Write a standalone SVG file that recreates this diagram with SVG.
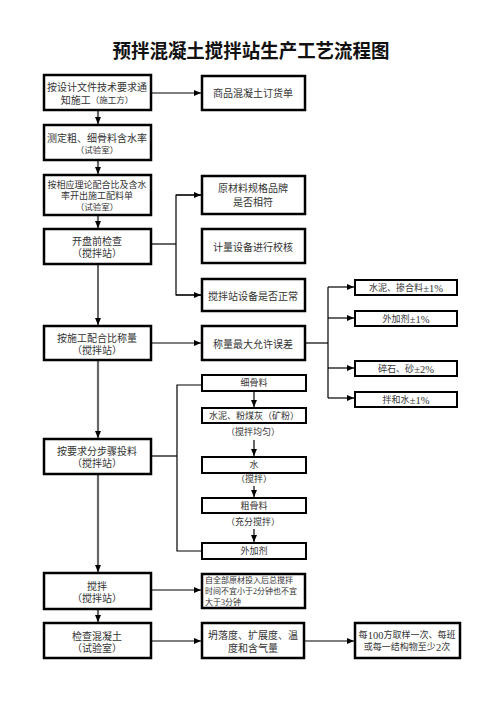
<svg xmlns="http://www.w3.org/2000/svg" width="496" height="702" viewBox="0 0 496 702">
<style>
.b{fill:#fff;stroke:#000;stroke-width:2.5}
.s{fill:#fff;stroke:#000;stroke-width:2}
text{font-family:"Liberation Serif","Noto Sans CJK SC",serif;fill:#333;text-anchor:middle;dominant-baseline:central}
.t{font-size:10px}
.m{font-size:8.5px}
.k{font-size:9px}
.d{font-size:10.5px}
.c line,.c polyline{fill:none;stroke:#000;stroke-width:1.2}
.c .g{stroke:#666;stroke-width:2.2}
</style>
<defs>
<marker id="a" markerWidth="8" markerHeight="8" refX="7" refY="4" orient="auto" markerUnits="userSpaceOnUse"><path d="M0,1 L7,4 L0,7 z" fill="#000"/></marker>
</defs>
<rect width="496" height="702" fill="#fff"/>
<text x="251" y="49" textLength="277" lengthAdjust="spacingAndGlyphs" style="font-family:'Noto Sans CJK SC',sans-serif;font-size:19px;font-weight:bold;fill:#111">预拌混凝土搅拌站生产工艺流程图</text>

<g class="c">
<line class="g" x1="98" y1="110" x2="98" y2="124" marker-end="url(#a)"/>
<line class="g" x1="98" y1="160" x2="98" y2="174" marker-end="url(#a)"/>
<line class="g" x1="98" y1="215" x2="98" y2="228" marker-end="url(#a)"/>
<line x1="98" y1="264" x2="98" y2="325" stroke="#555" marker-end="url(#a)"/>
<line class="g" x1="98" y1="360" x2="98" y2="438" marker-end="url(#a)"/>
<line class="g" x1="98" y1="474" x2="98" y2="572" marker-end="url(#a)"/>
<line class="g" x1="98" y1="609" x2="98" y2="622" marker-end="url(#a)"/>
<line x1="151" y1="93" x2="201" y2="93" marker-end="url(#a)"/>
<polyline points="151,244 176,244"/>
<polyline points="201,195 176,195 176,295 201,295"/>
<line x1="176" y1="195" x2="201" y2="195" marker-end="url(#a)"/>
<line x1="176" y1="295" x2="201" y2="295" marker-end="url(#a)"/>
<line x1="151" y1="343" x2="201" y2="343" marker-end="url(#a)"/>
<polyline points="305,343 328,343"/>
<polyline points="328,287 328,398"/>
<line x1="328" y1="287" x2="354" y2="287" marker-end="url(#a)"/>
<line x1="328" y1="318" x2="354" y2="318" marker-end="url(#a)"/>
<line x1="328" y1="368" x2="354" y2="368" marker-end="url(#a)"/>
<line x1="328" y1="398" x2="354" y2="398" marker-end="url(#a)"/>
<polyline points="151,456 177,456"/>
<polyline points="202,385 177,385 177,551 202,551"/>
<line x1="254" y1="391" x2="254" y2="407" marker-end="url(#a)"/>
<line x1="254" y1="440" x2="254" y2="456" marker-end="url(#a)"/>
<line x1="254" y1="486" x2="254" y2="497" marker-end="url(#a)"/>
<line x1="254" y1="529" x2="254" y2="542" marker-end="url(#a)"/>
<line x1="151" y1="590" x2="201" y2="590" marker-end="url(#a)"/>
<line x1="151" y1="641" x2="201" y2="641" stroke="#777" stroke-width="1.5" marker-end="url(#a)"/>
<line x1="305" y1="641" x2="354" y2="641" marker-end="url(#a)"/>
</g>

<g id="n1"><rect class="b" x="44" y="75" width="107" height="35"/><text class="t" x="97" y="87">按设计文件技术要求通</text><text class="t" x="97" y="100">知施工<tspan class="m">（施工方）</tspan></text></g>
<g id="n2"><rect class="b" x="44" y="125" width="107" height="35"/><text class="t" x="97" y="138">测定粗、细骨料含水率</text><text class="m" x="97" y="150">（试验室）</text></g>
<g id="n3"><rect class="b" x="44" y="175" width="107" height="40"/><text class="k" x="97" y="185">按相应理论配合比及含水</text><text class="k" x="97" y="196">率开出施工配料单</text><text class="m" x="97" y="207">（试验室）</text></g>
<g id="n4"><rect class="b" x="44" y="229" width="107" height="35"/><text class="t" x="97" y="241">开盘前检查</text><text class="t" x="97" y="253">（搅拌站）</text></g>
<g id="n5"><rect class="b" x="44" y="326" width="107" height="34"/><text class="t" x="97" y="338">按施工配合比称量</text><text class="t" x="97" y="350">（搅拌站）</text></g>
<g id="n6"><rect class="b" x="44" y="439" width="107" height="35"/><text class="t" x="97" y="451">按要求分步骤投料</text><text class="t" x="97" y="463">（搅拌站）</text></g>
<g id="n7"><rect class="b" x="44" y="573" width="107" height="36"/><text class="t" x="97" y="586">搅拌</text><text class="t" x="97" y="598">（搅拌站）</text></g>
<g id="n8"><rect class="b" x="44" y="623" width="107" height="35"/><text class="t" x="97" y="636">检查混凝土</text><text class="t" x="97" y="648">（试验室）</text></g>

<g id="r1"><rect class="b" x="202" y="76" width="103" height="34"/><text class="t" x="253" y="93">商品混凝土订货单</text></g>
<g id="r2"><rect class="b" x="202" y="176" width="103" height="38"/><text class="t" x="253" y="188">原材料规格品牌</text><text class="t" x="253" y="202">是否相符</text></g>
<g id="r3"><rect class="b" x="202" y="229" width="103" height="34"/><text class="t" x="253" y="247">计量设备进行校核</text></g>
<g id="r4"><rect class="b" x="202" y="279" width="103" height="32"/><text class="t" x="253" y="296">搅拌站设备是否正常</text></g>
<g id="r5"><rect class="b" x="202" y="326" width="103" height="34"/><text class="t" x="253" y="344">称量最大允许误差</text></g>

<g id="e1"><rect class="s" x="355" y="280" width="102" height="15"/><text class="k" x="406" y="288">水泥、掺合料<tspan class="d">±1%</tspan></text></g>
<g id="e2"><rect class="s" x="355" y="311" width="102" height="15"/><text class="k" x="406" y="319">外加剂<tspan class="d">±1%</tspan></text></g>
<g id="e3"><rect class="s" x="355" y="361" width="102" height="15"/><text class="k" x="406" y="369">碎石、砂<tspan class="d">±2%</tspan></text></g>
<g id="e4"><rect class="s" x="355" y="392" width="102" height="15"/><text class="k" x="406" y="400">拌和水<tspan class="d">±1%</tspan></text></g>

<g id="f1"><rect class="s" x="202" y="375" width="104" height="16"/><text class="k" x="254" y="383">细骨料</text></g>
<g id="f2"><rect class="s" x="202" y="408" width="104" height="15"/><text class="k" x="254" y="416">水泥、粉煤灰（矿粉）</text></g>
<text class="k" x="253" y="432">（搅拌均匀）</text>
<g id="f3"><rect class="s" x="202" y="457" width="104" height="16"/><text class="k" x="254" y="465">水</text></g>
<text class="k" x="254" y="479">（搅拌）</text>
<g id="f4"><rect class="s" x="202" y="498" width="104" height="15"/><text class="k" x="254" y="506">粗骨料</text></g>
<text class="k" x="253" y="522">（充分搅拌）</text>
<g id="f5"><rect class="s" x="202" y="543" width="104" height="16"/><text class="k" x="254" y="551">外加剂</text></g>

<g id="m1"><rect class="b" x="202" y="574" width="103" height="34"/><text style="font-size:8px;text-anchor:start" x="205" y="580">自全部原材投入后总搅拌</text><text style="font-size:8px;text-anchor:start" x="205" y="591">时间不宜小于2分钟也不宜</text><text style="font-size:8px;text-anchor:start" x="205" y="602">大于3分钟</text></g>
<g id="m2"><rect class="b" x="202" y="623" width="102" height="35"/><text class="t" x="253" y="635">坍落度、扩展度、温</text><text class="t" x="253" y="648">度和含气量</text></g>
<g id="m3"><rect class="b" x="355" y="623" width="105" height="35"/><text class="k" x="407" y="635">每<tspan class="d">100</tspan>方取样一次、每班</text><text class="k" x="407" y="647">或每一结构物至少<tspan class="d">2</tspan>次</text></g>
</svg>
